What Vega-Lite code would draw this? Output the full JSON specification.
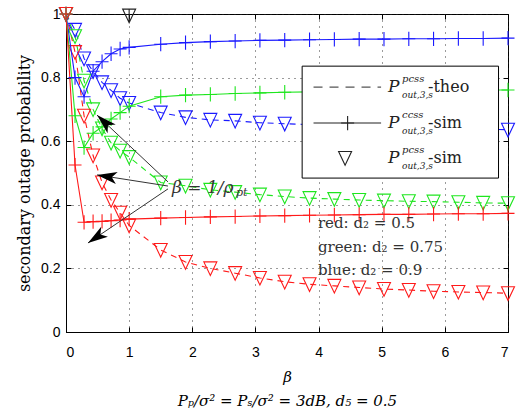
{
  "$schema": "https://vega.github.io/schema/vega-lite/v6.json",
  "width": 442,
  "height": 318,
  "autosize": "none",
  "padding": {"left": 66, "top": 14, "right": 10, "bottom": 80},
  "background": "white",
  "config": {
    "view": {"stroke": "black", "strokeWidth": 1},
    "axis": {
      "domainColor": "black",
      "tickColor": "black",
      "labelColor": "black",
      "titleColor": "black",
      "labelFont": "Liberation Sans",
      "labelFontSize": 14,
      "titleFontWeight": "normal"
    }
  },
  "resolve": {"axis": {"x": "independent", "y": "independent"}},
  "datasets": {
    "curves": [
      {"d2": "blue", "kind": "pcss", "beta": 0, "p": 1.0},
      {"d2": "blue", "kind": "pcss", "beta": 0.143, "p": 0.95},
      {"d2": "blue", "kind": "pcss", "beta": 0.286, "p": 0.86},
      {"d2": "blue", "kind": "pcss", "beta": 0.429, "p": 0.82},
      {"d2": "blue", "kind": "pcss", "beta": 0.571, "p": 0.785},
      {"d2": "blue", "kind": "pcss", "beta": 0.714, "p": 0.76},
      {"d2": "blue", "kind": "pcss", "beta": 0.857, "p": 0.735},
      {"d2": "blue", "kind": "pcss", "beta": 1, "p": 0.72},
      {"d2": "blue", "kind": "pcss", "beta": 1.5, "p": 0.69},
      {"d2": "blue", "kind": "pcss", "beta": 1.893, "p": 0.675},
      {"d2": "blue", "kind": "pcss", "beta": 2.286, "p": 0.667},
      {"d2": "blue", "kind": "pcss", "beta": 2.679, "p": 0.664},
      {"d2": "blue", "kind": "pcss", "beta": 3.071, "p": 0.658},
      {"d2": "blue", "kind": "pcss", "beta": 3.464, "p": 0.655},
      {"d2": "blue", "kind": "pcss", "beta": 3.857, "p": 0.652},
      {"d2": "blue", "kind": "pcss", "beta": 4.25, "p": 0.65},
      {"d2": "blue", "kind": "pcss", "beta": 4.643, "p": 0.648},
      {"d2": "blue", "kind": "pcss", "beta": 5.036, "p": 0.646},
      {"d2": "blue", "kind": "pcss", "beta": 5.429, "p": 0.644},
      {"d2": "blue", "kind": "pcss", "beta": 5.821, "p": 0.642},
      {"d2": "blue", "kind": "pcss", "beta": 6.214, "p": 0.64},
      {"d2": "blue", "kind": "pcss", "beta": 6.607, "p": 0.638},
      {"d2": "blue", "kind": "pcss", "beta": 7, "p": 0.636},
      {"d2": "blue", "kind": "ccss", "beta": 0, "p": 1.0},
      {"d2": "blue", "kind": "ccss", "beta": 0.143, "p": 0.8},
      {"d2": "blue", "kind": "ccss", "beta": 0.286, "p": 0.74},
      {"d2": "blue", "kind": "ccss", "beta": 0.429, "p": 0.82},
      {"d2": "blue", "kind": "ccss", "beta": 0.571, "p": 0.85},
      {"d2": "blue", "kind": "ccss", "beta": 0.714, "p": 0.875},
      {"d2": "blue", "kind": "ccss", "beta": 0.857, "p": 0.89},
      {"d2": "blue", "kind": "ccss", "beta": 1, "p": 0.895},
      {"d2": "blue", "kind": "ccss", "beta": 1.5, "p": 0.905},
      {"d2": "blue", "kind": "ccss", "beta": 1.893, "p": 0.91},
      {"d2": "blue", "kind": "ccss", "beta": 2.286, "p": 0.913},
      {"d2": "blue", "kind": "ccss", "beta": 2.679, "p": 0.915},
      {"d2": "blue", "kind": "ccss", "beta": 3.071, "p": 0.917},
      {"d2": "blue", "kind": "ccss", "beta": 3.464, "p": 0.918},
      {"d2": "blue", "kind": "ccss", "beta": 3.857, "p": 0.919},
      {"d2": "blue", "kind": "ccss", "beta": 4.25, "p": 0.92},
      {"d2": "blue", "kind": "ccss", "beta": 4.643, "p": 0.921},
      {"d2": "blue", "kind": "ccss", "beta": 5.036, "p": 0.921},
      {"d2": "blue", "kind": "ccss", "beta": 5.429, "p": 0.922},
      {"d2": "blue", "kind": "ccss", "beta": 5.821, "p": 0.922},
      {"d2": "blue", "kind": "ccss", "beta": 6.214, "p": 0.923},
      {"d2": "blue", "kind": "ccss", "beta": 6.607, "p": 0.923},
      {"d2": "blue", "kind": "ccss", "beta": 7, "p": 0.924},
      {"d2": "green", "kind": "pcss", "beta": 0, "p": 1.0},
      {"d2": "green", "kind": "pcss", "beta": 0.143, "p": 0.93},
      {"d2": "green", "kind": "pcss", "beta": 0.286, "p": 0.79},
      {"d2": "green", "kind": "pcss", "beta": 0.429, "p": 0.7},
      {"d2": "green", "kind": "pcss", "beta": 0.571, "p": 0.64},
      {"d2": "green", "kind": "pcss", "beta": 0.714, "p": 0.595},
      {"d2": "green", "kind": "pcss", "beta": 0.857, "p": 0.57},
      {"d2": "green", "kind": "pcss", "beta": 1, "p": 0.55},
      {"d2": "green", "kind": "pcss", "beta": 1.5, "p": 0.47},
      {"d2": "green", "kind": "pcss", "beta": 1.893, "p": 0.46},
      {"d2": "green", "kind": "pcss", "beta": 2.286, "p": 0.447},
      {"d2": "green", "kind": "pcss", "beta": 2.679, "p": 0.44},
      {"d2": "green", "kind": "pcss", "beta": 3.071, "p": 0.432},
      {"d2": "green", "kind": "pcss", "beta": 3.464, "p": 0.426},
      {"d2": "green", "kind": "pcss", "beta": 3.857, "p": 0.421},
      {"d2": "green", "kind": "pcss", "beta": 4.25, "p": 0.418},
      {"d2": "green", "kind": "pcss", "beta": 4.643, "p": 0.415},
      {"d2": "green", "kind": "pcss", "beta": 5.036, "p": 0.413},
      {"d2": "green", "kind": "pcss", "beta": 5.429, "p": 0.411},
      {"d2": "green", "kind": "pcss", "beta": 5.821, "p": 0.41},
      {"d2": "green", "kind": "pcss", "beta": 6.214, "p": 0.408},
      {"d2": "green", "kind": "pcss", "beta": 6.607, "p": 0.406},
      {"d2": "green", "kind": "pcss", "beta": 7, "p": 0.405},
      {"d2": "green", "kind": "ccss", "beta": 0, "p": 1.0},
      {"d2": "green", "kind": "ccss", "beta": 0.143, "p": 0.68},
      {"d2": "green", "kind": "ccss", "beta": 0.286, "p": 0.58},
      {"d2": "green", "kind": "ccss", "beta": 0.429, "p": 0.625},
      {"d2": "green", "kind": "ccss", "beta": 0.571, "p": 0.645},
      {"d2": "green", "kind": "ccss", "beta": 0.714, "p": 0.67},
      {"d2": "green", "kind": "ccss", "beta": 0.857, "p": 0.69},
      {"d2": "green", "kind": "ccss", "beta": 1, "p": 0.71},
      {"d2": "green", "kind": "ccss", "beta": 1.5, "p": 0.74},
      {"d2": "green", "kind": "ccss", "beta": 1.893, "p": 0.745},
      {"d2": "green", "kind": "ccss", "beta": 2.286, "p": 0.747},
      {"d2": "green", "kind": "ccss", "beta": 2.679, "p": 0.75},
      {"d2": "green", "kind": "ccss", "beta": 3.071, "p": 0.752},
      {"d2": "green", "kind": "ccss", "beta": 3.464, "p": 0.754},
      {"d2": "green", "kind": "ccss", "beta": 3.857, "p": 0.755},
      {"d2": "green", "kind": "ccss", "beta": 4.25, "p": 0.756},
      {"d2": "green", "kind": "ccss", "beta": 4.643, "p": 0.757},
      {"d2": "green", "kind": "ccss", "beta": 5.036, "p": 0.758},
      {"d2": "green", "kind": "ccss", "beta": 5.429, "p": 0.759},
      {"d2": "green", "kind": "ccss", "beta": 5.821, "p": 0.76},
      {"d2": "green", "kind": "ccss", "beta": 6.214, "p": 0.76},
      {"d2": "green", "kind": "ccss", "beta": 6.607, "p": 0.761},
      {"d2": "green", "kind": "ccss", "beta": 7, "p": 0.761},
      {"d2": "red", "kind": "pcss", "beta": 0, "p": 1.0},
      {"d2": "red", "kind": "pcss", "beta": 0.143, "p": 0.88},
      {"d2": "red", "kind": "pcss", "beta": 0.286, "p": 0.68},
      {"d2": "red", "kind": "pcss", "beta": 0.429, "p": 0.555},
      {"d2": "red", "kind": "pcss", "beta": 0.571, "p": 0.47},
      {"d2": "red", "kind": "pcss", "beta": 0.714, "p": 0.415},
      {"d2": "red", "kind": "pcss", "beta": 0.857, "p": 0.375},
      {"d2": "red", "kind": "pcss", "beta": 1, "p": 0.335},
      {"d2": "red", "kind": "pcss", "beta": 1.5, "p": 0.258},
      {"d2": "red", "kind": "pcss", "beta": 1.893, "p": 0.22},
      {"d2": "red", "kind": "pcss", "beta": 2.286, "p": 0.2},
      {"d2": "red", "kind": "pcss", "beta": 2.679, "p": 0.185},
      {"d2": "red", "kind": "pcss", "beta": 3.071, "p": 0.17},
      {"d2": "red", "kind": "pcss", "beta": 3.464, "p": 0.158},
      {"d2": "red", "kind": "pcss", "beta": 3.857, "p": 0.15},
      {"d2": "red", "kind": "pcss", "beta": 4.25, "p": 0.145},
      {"d2": "red", "kind": "pcss", "beta": 4.643, "p": 0.14},
      {"d2": "red", "kind": "pcss", "beta": 5.036, "p": 0.135},
      {"d2": "red", "kind": "pcss", "beta": 5.429, "p": 0.132},
      {"d2": "red", "kind": "pcss", "beta": 5.821, "p": 0.128},
      {"d2": "red", "kind": "pcss", "beta": 6.214, "p": 0.126},
      {"d2": "red", "kind": "pcss", "beta": 6.607, "p": 0.124},
      {"d2": "red", "kind": "pcss", "beta": 7, "p": 0.122},
      {"d2": "red", "kind": "ccss", "beta": 0, "p": 1.0},
      {"d2": "red", "kind": "ccss", "beta": 0.143, "p": 0.525},
      {"d2": "red", "kind": "ccss", "beta": 0.286, "p": 0.345},
      {"d2": "red", "kind": "ccss", "beta": 0.429, "p": 0.347},
      {"d2": "red", "kind": "ccss", "beta": 0.571, "p": 0.348},
      {"d2": "red", "kind": "ccss", "beta": 0.714, "p": 0.35},
      {"d2": "red", "kind": "ccss", "beta": 0.857, "p": 0.352},
      {"d2": "red", "kind": "ccss", "beta": 1, "p": 0.355},
      {"d2": "red", "kind": "ccss", "beta": 1.5, "p": 0.358},
      {"d2": "red", "kind": "ccss", "beta": 1.893, "p": 0.36},
      {"d2": "red", "kind": "ccss", "beta": 2.286, "p": 0.362},
      {"d2": "red", "kind": "ccss", "beta": 2.679, "p": 0.363},
      {"d2": "red", "kind": "ccss", "beta": 3.071, "p": 0.365},
      {"d2": "red", "kind": "ccss", "beta": 3.464, "p": 0.366},
      {"d2": "red", "kind": "ccss", "beta": 3.857, "p": 0.367},
      {"d2": "red", "kind": "ccss", "beta": 4.25, "p": 0.368},
      {"d2": "red", "kind": "ccss", "beta": 4.643, "p": 0.369},
      {"d2": "red", "kind": "ccss", "beta": 5.036, "p": 0.37},
      {"d2": "red", "kind": "ccss", "beta": 5.429, "p": 0.37},
      {"d2": "red", "kind": "ccss", "beta": 5.821, "p": 0.371},
      {"d2": "red", "kind": "ccss", "beta": 6.214, "p": 0.372},
      {"d2": "red", "kind": "ccss", "beta": 6.607, "p": 0.372},
      {"d2": "red", "kind": "ccss", "beta": 7, "p": 0.373}
    ],
    "legendRows": [
      {"entry": "theo", "p": 0.77, "sup": "pcss", "tail": "-theo"},
      {"entry": "ccss", "p": 0.657, "sup": "ccss", "tail": "-sim"},
      {"entry": "pcss", "p": 0.547, "sup": "pcss", "tail": "-sim"}
    ],
    "notes": [
      {"label": "red:  d₂ = 0.5", "p": 0.343},
      {"label": "green:  d₂ = 0.75", "p": 0.267},
      {"label": "blue:  d₂ = 0.9", "p": 0.195}
    ],
    "arrows": [
      {"arrow": 1, "beta_tail": 1.615, "p_tail": 0.472, "beta_tip": 0.491, "p_tip": 0.682},
      {"arrow": 2, "beta_tail": 1.615, "p_tail": 0.459, "beta_tip": 0.491, "p_tip": 0.494},
      {"arrow": 3, "beta_tail": 1.615, "p_tail": 0.45, "beta_tip": 0.348, "p_tip": 0.28}
    ]
  },
  "layer": [
    {
      "data": {"name": "curves"},
      "transform": [{"filter": "datum.kind === 'pcss'"}],
      "mark": {"type": "line", "strokeDash": [6, 5], "strokeWidth": 1.1, "clip": true},
      "encoding": {
        "x": {
          "field": "beta", "type": "quantitative",
          "scale": {"domain": [0, 7], "nice": false, "zero": false},
          "axis": {
            "values": [0, 1, 2, 3, 4, 5, 6, 7], "format": "d",
            "grid": true, "gridDash": [1, 5], "gridColor": "#222", "gridOpacity": 0.9,
            "tickSize": -5, "labelPadding": 18,
            "title": ["β", "Pₚ/σ² = Pₛ/σ² = 3dB, d₅ = 0.5"],
            "titleFont": "DejaVu Serif", "titleFontStyle": "italic", "titleFontSize": 15,
            "titleLineHeight": 24, "titlePadding": 10
          }
        },
        "y": {
          "field": "p", "type": "quantitative",
          "scale": {"domain": [0, 1], "nice": false},
          "axis": {
            "values": [0, 0.2, 0.4, 0.6, 0.8, 1], "format": "~g",
            "grid": true, "gridDash": [1, 5], "gridColor": "#222", "gridOpacity": 0.9,
            "tickSize": -5, "labelPadding": 11,
            "title": "secondary outage probability",
            "titleFont": "DejaVu Serif", "titleFontSize": 16, "titlePadding": 8
          }
        },
        "color": {
          "field": "d2", "type": "nominal",
          "scale": {"domain": ["red", "green", "blue"], "range": ["#ff1a1a", "#1ee61e", "#1a1aff"]},
          "legend": null
        }
      }
    },
    {
      "data": {"name": "curves"},
      "transform": [{"filter": "datum.kind === 'pcss'"}],
      "mark": {"type": "point", "shape": "M-1,-1L1,-1L0,1.1Z", "filled": false, "size": 169, "strokeWidth": 1.1, "opacity": 1},
      "encoding": {
        "x": {"field": "beta", "type": "quantitative", "axis": null},
        "y": {"field": "p", "type": "quantitative", "axis": null},
        "color": {"field": "d2", "type": "nominal", "legend": null}
      }
    },
    {
      "data": {"name": "curves"},
      "transform": [{"filter": "datum.kind === 'ccss'"}],
      "mark": {"type": "line", "strokeWidth": 1.1, "clip": true},
      "encoding": {
        "x": {"field": "beta", "type": "quantitative", "axis": null},
        "y": {"field": "p", "type": "quantitative", "axis": null},
        "color": {"field": "d2", "type": "nominal", "legend": null}
      }
    },
    {
      "data": {"name": "curves"},
      "transform": [{"filter": "datum.kind === 'ccss'"}],
      "mark": {"type": "point", "shape": "M-1,0L1,0M0,-1.1L0,1.1", "filled": false, "size": 169, "strokeWidth": 1.1, "opacity": 1},
      "encoding": {
        "x": {"field": "beta", "type": "quantitative", "axis": null},
        "y": {"field": "p", "type": "quantitative", "axis": null},
        "color": {"field": "d2", "type": "nominal", "legend": null}
      }
    },
    {
      "data": {"values": [{"beta": 1, "p": 0.995}]},
      "mark": {"type": "point", "shape": "M-1,-1L1,-1L0,1.1Z M0,-1.1L0,1.1", "filled": false, "size": 169, "strokeWidth": 1.1, "color": "#222", "opacity": 1},
      "encoding": {
        "x": {
          "field": "beta", "type": "quantitative",
          "axis": {"orient": "top", "values": [0, 1, 2, 3, 4, 5, 6, 7], "labels": false, "domain": false, "grid": false, "tickSize": -5, "title": null}
        },
        "y": {
          "field": "p", "type": "quantitative",
          "axis": {"orient": "right", "values": [0, 0.2, 0.4, 0.6, 0.8, 1], "labels": false, "domain": false, "grid": false, "tickSize": -5, "title": null}
        }
      }
    },
    {
      "data": {"values": [{"b0": 3.74, "b1": 6.85, "p0": 0.484, "p1": 0.836}]},
      "mark": {"type": "rect", "fill": "white", "stroke": "black", "strokeWidth": 1},
      "encoding": {
        "x": {"field": "b0", "type": "quantitative", "axis": null},
        "x2": {"field": "b1"},
        "y": {"field": "p0", "type": "quantitative", "axis": null},
        "y2": {"field": "p1"}
      }
    },
    {
      "data": {"name": "legendRows"},
      "transform": [{"filter": "datum.entry === 'theo'"}],
      "mark": {"type": "rule", "strokeDash": [9, 7], "strokeWidth": 1.1, "color": "#555"},
      "encoding": {
        "x": {"datum": 3.92, "type": "quantitative", "axis": null},
        "x2": {"datum": 4.99},
        "y": {"field": "p", "type": "quantitative", "axis": null}
      }
    },
    {
      "data": {"name": "legendRows"},
      "transform": [{"filter": "datum.entry === 'ccss'"}],
      "mark": {"type": "rule", "strokeWidth": 1.1, "color": "#222"},
      "encoding": {
        "x": {"datum": 3.92, "type": "quantitative", "axis": null},
        "x2": {"datum": 4.99},
        "y": {"field": "p", "type": "quantitative", "axis": null}
      }
    },
    {
      "data": {"name": "legendRows"},
      "transform": [{"filter": "datum.entry === 'ccss'"}],
      "mark": {"type": "point", "shape": "M-1,0L1,0M0,-1.1L0,1.1", "filled": false, "size": 169, "strokeWidth": 1.1, "color": "#222", "opacity": 1},
      "encoding": {
        "x": {"datum": 4.46, "type": "quantitative", "axis": null},
        "y": {"field": "p", "type": "quantitative", "axis": null}
      }
    },
    {
      "data": {"name": "legendRows"},
      "transform": [{"filter": "datum.entry === 'pcss'"}],
      "mark": {"type": "point", "shape": "M-1,-1L1,-1L0,1.1Z", "filled": false, "size": 169, "strokeWidth": 1.1, "color": "#222", "opacity": 1},
      "encoding": {
        "x": {"datum": 4.42, "type": "quantitative", "axis": null},
        "y": {"field": "p", "type": "quantitative", "axis": null}
      }
    },
    {
      "data": {"name": "legendRows"},
      "mark": {"type": "text", "align": "left", "baseline": "middle", "font": "DejaVu Serif", "fontStyle": "italic", "fontSize": 17, "color": "#222"},
      "encoding": {
        "x": {"datum": 5.1, "type": "quantitative", "axis": null},
        "y": {"field": "p", "type": "quantitative", "axis": null},
        "text": {"value": "P"}
      }
    },
    {
      "data": {"name": "legendRows"},
      "mark": {"type": "text", "align": "left", "baseline": "middle", "font": "DejaVu Serif", "fontStyle": "italic", "fontSize": 10, "color": "#222", "dx": 14, "dy": -8},
      "encoding": {
        "x": {"datum": 5.1, "type": "quantitative", "axis": null},
        "y": {"field": "p", "type": "quantitative", "axis": null},
        "text": {"field": "sup"}
      }
    },
    {
      "data": {"name": "legendRows"},
      "mark": {"type": "text", "align": "left", "baseline": "middle", "font": "DejaVu Serif", "fontStyle": "italic", "fontSize": 9, "color": "#222", "dx": 14, "dy": 8},
      "encoding": {
        "x": {"datum": 5.1, "type": "quantitative", "axis": null},
        "y": {"field": "p", "type": "quantitative", "axis": null},
        "text": {"value": "out,3,s"}
      }
    },
    {
      "data": {"name": "legendRows"},
      "mark": {"type": "text", "align": "left", "baseline": "middle", "font": "DejaVu Serif", "fontSize": 16, "color": "#222", "dx": 40},
      "encoding": {
        "x": {"datum": 5.1, "type": "quantitative", "axis": null},
        "y": {"field": "p", "type": "quantitative", "axis": null},
        "text": {"field": "tail"}
      }
    },
    {
      "data": {"name": "notes"},
      "mark": {"type": "text", "align": "left", "baseline": "middle", "font": "DejaVu Serif", "fontSize": 15, "color": "#333"},
      "encoding": {
        "x": {"datum": 3.99, "type": "quantitative", "axis": null},
        "y": {"field": "p", "type": "quantitative", "axis": null},
        "text": {"field": "label"}
      }
    },
    {
      "data": {"name": "arrows"},
      "mark": {"type": "rule", "color": "#333", "strokeWidth": 1},
      "encoding": {
        "x": {"field": "beta_tail", "type": "quantitative", "axis": null},
        "y": {"field": "p_tail", "type": "quantitative", "axis": null},
        "x2": {"field": "beta_tip"},
        "y2": {"field": "p_tip"}
      }
    },
    {
      "data": {"name": "arrows"},
      "transform": [{"filter": "datum.arrow === 1"}],
      "mark": {"type": "point", "shape": "M0,0L-0.6,2L0,1.5L0.6,2Z", "filled": true, "color": "black", "size": 400, "opacity": 1, "angle": 313},
      "encoding": {
        "x": {"field": "beta_tip", "type": "quantitative", "axis": null},
        "y": {"field": "p_tip", "type": "quantitative", "axis": null}
      }
    },
    {
      "data": {"name": "arrows"},
      "transform": [{"filter": "datum.arrow === 2"}],
      "mark": {"type": "point", "shape": "M0,0L-0.6,2L0,1.5L0.6,2Z", "filled": true, "color": "black", "size": 400, "opacity": 1, "angle": 279},
      "encoding": {
        "x": {"field": "beta_tip", "type": "quantitative", "axis": null},
        "y": {"field": "p_tip", "type": "quantitative", "axis": null}
      }
    },
    {
      "data": {"name": "arrows"},
      "transform": [{"filter": "datum.arrow === 3"}],
      "mark": {"type": "point", "shape": "M0,0L-0.6,2L0,1.5L0.6,2Z", "filled": true, "color": "black", "size": 400, "opacity": 1, "angle": 236},
      "encoding": {
        "x": {"field": "beta_tip", "type": "quantitative", "axis": null},
        "y": {"field": "p_tip", "type": "quantitative", "axis": null}
      }
    },
    {
      "data": {"values": [{"beta": 1.68, "p": 0.453}]},
      "mark": {"type": "text", "align": "left", "baseline": "middle", "font": "DejaVu Serif", "fontStyle": "italic", "fontSize": 17, "color": "#333"},
      "encoding": {
        "x": {"field": "beta", "type": "quantitative", "axis": null},
        "y": {"field": "p", "type": "quantitative", "axis": null},
        "text": {"value": "β = 1/ρ"}
      }
    },
    {
      "data": {"values": [{"beta": 1.68, "p": 0.453}]},
      "mark": {"type": "text", "align": "left", "baseline": "middle", "font": "DejaVu Serif", "fontStyle": "italic", "fontSize": 11, "color": "#333", "dx": 64, "dy": 5},
      "encoding": {
        "x": {"field": "beta", "type": "quantitative", "axis": null},
        "y": {"field": "p", "type": "quantitative", "axis": null},
        "text": {"value": "pt"}
      }
    }
  ]
}
